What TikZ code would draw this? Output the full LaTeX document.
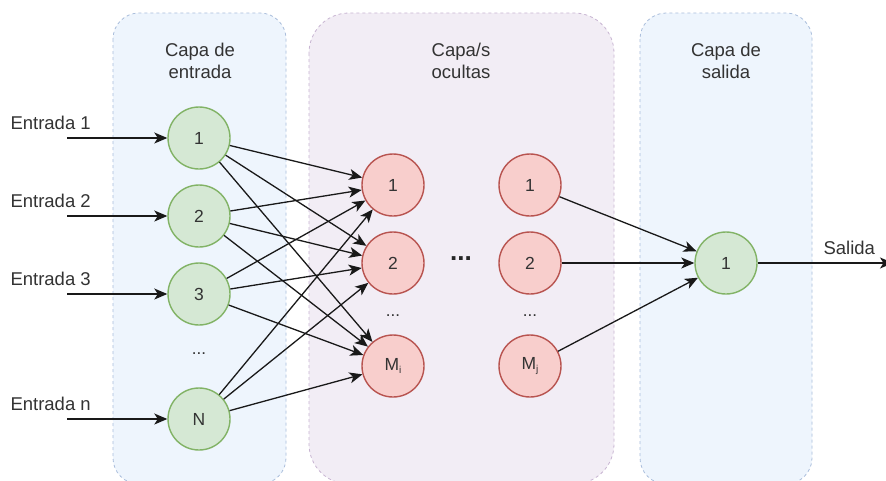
\documentclass[tikz,border=0pt]{standalone}
\usepackage{fontspec}
\setmainfont{Liberation Sans}
\usetikzlibrary{arrows.meta}
\definecolor{inFill}{HTML}{D5E8D4}
\definecolor{inLine}{HTML}{82B366}
\definecolor{hidFill}{HTML}{F8CECC}
\definecolor{hidLine}{HTML}{B85450}
\definecolor{blueBg}{HTML}{EEF5FD}
\definecolor{blueEdge}{HTML}{A9BDDB}
\definecolor{purpleBg}{HTML}{F2EDF5}
\definecolor{purpleEdge}{HTML}{C8B5D2}
\definecolor{txt}{HTML}{333333}
\tikzset{
  layerbox/.style={dashed, dash pattern=on 3pt off 3pt, line width=0.8pt},
  neuron/.style={circle, minimum size=62pt, inner sep=0pt, line width=1.4pt,
    font=\fontsize{17.5}{20}\selectfont, text=txt},
  innode/.style={neuron, draw=inLine, fill=inFill},
  hidnode/.style={neuron, draw=hidLine, fill=hidFill},
  title/.style={align=center, font=\fontsize{18.5}{22}\selectfont, text=txt},
  lbl/.style={font=\fontsize{18.5}{22}\selectfont, text=txt},
  wire/.style={line width=1.3pt, draw=black!90, -{Stealth[length=13pt,width=11pt,inset=3.5pt]}},
  dots/.style={font=\fontsize{17}{20}\selectfont, text=txt}
}
\begin{document}
\begin{tikzpicture}[x=1pt,y=-1pt]
\useasboundingbox (0,0) rectangle (886,480);
\fill[white] (0,0) rectangle (886,480);

% layer panels
\draw[layerbox, draw=blueEdge, fill=blueBg, rounded corners=26pt] (113,13) rectangle (286,484);
\draw[layerbox, draw=purpleEdge, fill=purpleBg, rounded corners=40pt] (309,13) rectangle (614,484);
\draw[layerbox, draw=blueEdge, fill=blueBg, rounded corners=26pt] (640,13) rectangle (812,484);

\node[title] (tin) at (200,61) {Capa de\\entrada};
\node[title] (thid) at (461,61) {Capa/s\\ocultas};
\node[title] (tout) at (726,61) {Capa de\\salida};

% input layer
\node[innode] (i1) at (199,138) {1};
\node[innode] (i2) at (199,216) {2};
\node[innode] (i3) at (199,294) {3};
\node[innode] (iN) at (199,419) {N};
\node[dots] (idots) at (199,354) {...};

% hidden layers
\node[hidnode] (a1) at (393,185) {1};
\node[hidnode] (a2) at (393,263) {2};
\node[hidnode] (aM) at (393,366) {M\raisebox{-0.4ex}{\fontsize{10}{11}\selectfont i}};
\node[dots] (adots) at (393,316) {...};

\node[hidnode] (b1) at (530,185) {1};
\node[hidnode] (b2) at (530,263) {2};
\node[hidnode] (bM) at (530,366) {M\raisebox{-0.4ex}{\fontsize{10}{11}\selectfont j}};
\node[dots] (bdots) at (530,316) {...};

\node[font=\fontsize{26}{28}\selectfont\bfseries, text=black!85] (mdots) at (461,259) {...};

% output layer
\node[innode] (o1) at (726,263) {1};

% inputs
\coordinate (e1) at (67,138);
\coordinate (e2) at (67,216);
\coordinate (e3) at (67,294);
\coordinate (eN) at (67,419);
\node[lbl, anchor=west] (l1) at (7,123) {Entrada 1};
\node[lbl, anchor=west] (l2) at (7,201) {Entrada 2};
\node[lbl, anchor=west] (l3) at (7,279) {Entrada 3};
\node[lbl, anchor=west] (lN) at (7,404) {Entrada n};
\foreach \s/\t in {e1/i1, e2/i2, e3/i3, eN/iN}
  \draw[wire] (\s) -- (\t);

% input -> first hidden layer
\foreach \s in {i1,i2,i3,iN}
  \foreach \t in {a1,a2,aM}
    \draw[wire] (\s) -- (\t);

% last hidden layer -> output
\foreach \s in {b1,b2,bM}
  \draw[wire] (\s) -- (o1);

% output
\coordinate (sOut) at (893,263);
\draw[wire] (o1) -- (sOut);
\node[lbl, anchor=west] (ls) at (820,248) {Salida};
\end{tikzpicture}
\end{document}
